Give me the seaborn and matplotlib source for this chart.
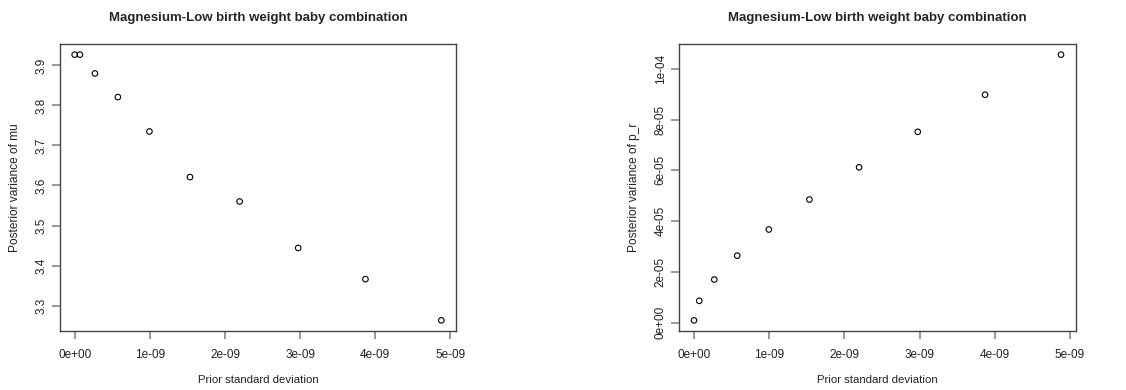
import numpy as np
import pandas as pd
import matplotlib
matplotlib.use("Agg")
import matplotlib.pyplot as plt
import seaborn as sns
from matplotlib.ticker import FuncFormatter

# Data
prior_sd = [0.0, 0.07e-9, 0.27e-9, 0.575e-9, 0.995e-9, 1.535e-9, 2.195e-9, 2.975e-9, 3.87e-9, 4.88e-9]
post_var_mu = [3.927, 3.927, 3.880, 3.821, 3.735, 3.621, 3.560, 3.444, 3.366, 3.263]
post_var_pr = [0.09e-5, 0.86e-5, 1.70e-5, 2.64e-5, 3.67e-5, 4.85e-5, 6.12e-5, 7.52e-5, 8.98e-5, 10.56e-5]

title = "Magnesium-Low birth weight baby combination"
xlabel = "Prior standard deviation"
ylabels = ["Posterior variance of mu", "Posterior variance of p_r"]
x_ticks = [0, 1e-9, 2e-9, 3e-9, 4e-9, 5e-9]
y_ticks_left = [3.3, 3.4, 3.5, 3.6, 3.7, 3.8, 3.9]
y_ticks_right = [0, 2e-5, 4e-5, 6e-5, 8e-5, 1e-4]

sns.set_style("white")
plt.rcParams['font.family'] = ['Liberation Sans', 'DejaVu Sans']

fig = plt.figure(figsize=(11.26, 3.9), dpi=100)
ax1 = fig.add_axes([60/1126, 1-331/390, 396/1126, 287/390])
ax2 = fig.add_axes([679.3/1126, 1-331/390, 396.4/1126, 287/390])

def r_lim(v):
    lo, hi = min(v), max(v)
    r = hi - lo
    return lo - 0.04*r, hi + 0.04*r

panels = [(ax1, post_var_mu, ylabels[0], y_ticks_left, FuncFormatter(lambda v, p: f"{v:.1f}")),
          (ax2, post_var_pr, ylabels[1], y_ticks_right, FuncFormatter(lambda v, p: "%.0e" % v))]

for ax, yv, yl, yt, yfmt in panels:
    df = pd.DataFrame({"x": prior_sd, "y": yv})
    sns.scatterplot(data=df, x="x", y="y", ax=ax, marker="o", s=16,
                    facecolors="none", edgecolor="black", linewidth=0.8)
    ax.set_xlim(*r_lim(prior_sd))
    ax.set_ylim(*r_lim(yv))
    ax.set_xticks(x_ticks)
    ax.set_yticks(yt)
    ax.xaxis.set_major_formatter(FuncFormatter(lambda v, p: "%.0e" % v))
    ax.yaxis.set_major_formatter(yfmt)
    ax.tick_params(axis="both", direction="out", length=6, width=1.2, color="#888888",
                   labelsize=8.5, labelcolor="#222222", bottom=True, left=True)
    ax.tick_params(axis="x", pad=7)
    ax.tick_params(axis="y", pad=3)
    for lab in ax.get_yticklabels():
        lab.set_rotation(90)
        lab.set_va("center")
    for sp in ax.spines.values():
        sp.set_color("#444444")
        sp.set_linewidth(1)
    ax.set_xlabel(xlabel, fontsize=8.2, color="#222222")
    ax.set_ylabel(yl, fontsize=8.6, color="#222222")
    ax.xaxis.set_label_coords(0.5, -(380-331)/287)
    ax.xaxis.label.set_va("center")
    ax.yaxis.set_label_coords(-45/396, 0.5)
    ax.yaxis.label.set_va("center")
    ax.set_title(title, fontsize=9.5, fontweight="bold", y=1+(44-18)/287, va="center", pad=0)
    ax.grid(False)

fig.savefig("out.png", dpi=100)
